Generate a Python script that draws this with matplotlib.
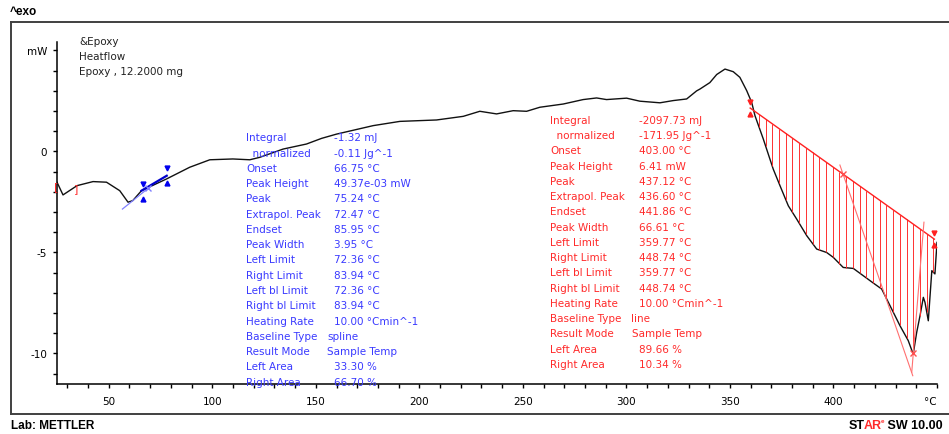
import matplotlib
matplotlib.use("Agg")
import matplotlib.pyplot as plt
from matplotlib.lines import Line2D
import numpy as np

# DSC heat flow curve (temperature in C, heat flow in mW)
temp = [25.0, 27.9, 34.7, 42.4, 48.9, 55.3, 59.3, 61.6, 65.8, 77.9, 89.1, 98.8,
        109.9, 118.1, 122.9, 134.2, 145.5, 152.8, 160.0, 177.7, 190.6, 208.3,
        221.2, 229.2, 237.3, 245.3, 251.8, 258.2, 269.5, 279.1, 285.6, 290.4,
        300.1, 306.5, 316.2, 322.6, 329.1, 333.9, 335.5, 340.3, 343.6, 347.6,
        351.6, 354.8, 358.1, 360.5, 362.1, 366.1, 370.9, 374.2, 378.2, 382.2,
        387.1, 391.9, 396.7, 399.9, 404.7, 409.6, 414.4, 419.2, 423.3, 427.3,
        432.1, 436.1, 438.5, 440.2, 441.8, 443.4, 444.2, 445.8, 447.5, 449.0, 450.0]
heatflow = [-1.52, -2.15, -1.69, -1.49, -1.52, -1.94, -2.51, -2.43, -1.94, -1.36,
            -0.78, -0.41, -0.37, -0.41, -0.29, 0.12, 0.37, 0.65, 0.86, 1.28, 1.49,
            1.56, 1.74, 1.99, 1.86, 2.02, 1.99, 2.19, 2.35, 2.57, 2.65, 2.57, 2.64,
            2.49, 2.41, 2.52, 2.60, 3.00, 3.09, 3.41, 3.81, 4.08, 3.95, 3.67, 3.01,
            2.43, 1.77, 0.62, -0.87, -1.70, -2.69, -3.34, -4.17, -4.83, -5.00, -5.24,
            -5.74, -5.79, -6.15, -6.51, -6.81, -7.63, -8.62, -9.36, -10.03, -8.95,
            -8.13, -7.22, -7.47, -8.38, -5.90, -6.06, -4.50]

# first (small) peak evaluation - blue
blue_tangent_t = [56.6, 70.6]
blue_tangent_y = [-2.85, -1.69]
blue_base_t = [65.8, 78.0]
blue_base_y = [-1.94, -1.20]
blue_marks_t = [66.3, 77.9]
blue_marks_y = [-1.98, -1.19]

# second (big) peak evaluation - red
red_limits = [359.77, 448.74]
red_base_y = [2.15, -4.34]
red_onset_t = [403.1, 438.3]
red_onset_y = [-0.67, -11.1]
red_end_t = [443.7, 437.8]
red_end_y = [-3.5, -10.93]
red_cross_t = [404.4, 438.5]
red_cross_y = [-1.11, -10.0]

blue_labels = ["Integral", "  normalized", "Onset", "Peak Height", "Peak",
               "Extrapol. Peak", "Endset", "Peak Width", "Left Limit", "Right Limit",
               "Left bl Limit", "Right bl Limit", "Heating Rate", "Baseline Type",
               "Result Mode", "Left Area", "Right Area"]
blue_values = ["-1.32 mJ", "-0.11 Jg^-1", "66.75 °C", "49.37e-03 mW", "75.24 °C",
               "72.47 °C", "85.95 °C", "3.95 °C", "72.36 °C", "83.94 °C", "72.36 °C",
               "83.94 °C", "10.00 °Cmin^-1", "spline", "Sample Temp", "33.30 %", "66.70 %"]
red_values = ["-2097.73 mJ", "-171.95 Jg^-1", "403.00 °C", "6.41 mW", "437.12 °C",
              "436.60 °C", "441.86 °C", "66.61 °C", "359.77 °C", "448.74 °C",
              "359.77 °C", "448.74 °C", "10.00 °Cmin^-1", "line", "Sample Temp",
              "89.66 %", "10.34 %"]

W, H = 949, 435
BLUE = "#3a3aff"
RED = "#ff2a2a"

fig = plt.figure(figsize=(W / 100, H / 100), dpi=100)
plt.rcParams["font.family"] = "DejaVu Sans"

def fx(x):
    return x / W

def fy(y):
    return 1 - y / H

# axes placed in pixel terms
ax = fig.add_axes([fx(57), fy(385), (937 - 57) / W, (385 - 43) / H])
ax.set_xlim(25, 450)
ax.set_ylim(-11.51, 5.42)
for s in ["top", "right"]:
    ax.spines[s].set_visible(False)
for s in ["left", "bottom"]:
    ax.spines[s].set_linewidth(1.1)

ax.set_xticks(np.arange(50, 451, 50))
ax.set_xticklabels([str(v) for v in range(50, 401, 50)] + ["°C"])
ax.set_xticks(np.arange(30, 450, 10), minor=True)
ax.set_yticks([5, 0, -5, -10])
ax.set_yticklabels(["mW", "0", "-5", "-10"])
ax.set_yticks(np.arange(-11, 5, 1), minor=True)
ax.tick_params(which="both", direction="out", labelsize=7.5, width=1.0)
ax.tick_params(axis="x", which="both", length=3.2, pad=5.5)
ax.tick_params(axis="y", which="both", length=3.0, pad=4)
ax.get_xticklabels()[-1].set_ha("right")

# main curve
ax.plot(temp, heatflow, color="#111111", lw=1.0)

# blue evaluation
ax.plot(blue_tangent_t, blue_tangent_y, color="#8080ff", lw=0.9)
ax.plot(blue_base_t, blue_base_y, color="#0000cc", lw=1.6)
for t, y in zip(blue_marks_t, blue_marks_y):
    ax.plot([t], [y + 0.35], marker="v", color="#0000ee", ms=3.5, ls="none")
    ax.plot([t], [y - 0.35], marker="^", color="#0000ee", ms=3.5, ls="none")
ax.plot([69.0], [-1.82], marker="x", color="#8080ff", ms=4, ls="none")

# red evaluation: hatched area between line baseline and curve
slope = (red_base_y[1] - red_base_y[0]) / (red_limits[1] - red_limits[0])
hx = np.arange(red_limits[0] + 1.0, red_limits[1], 3.24)
htop = red_base_y[0] + slope * (hx - red_limits[0])
hbot = np.interp(hx, temp, heatflow)
keep = hbot < htop
ax.vlines(hx[keep], hbot[keep], htop[keep], color="#ff3030", lw=0.7)
ax.plot(red_limits, red_base_y, color="#ff2020", lw=1.0)
ax.plot(red_onset_t, red_onset_y, color="#ff7070", lw=0.8, clip_on=False)
ax.plot(red_end_t, red_end_y, color="#ff7070", lw=0.8)
ax.plot(red_cross_t, red_cross_y, marker="x", color="#ff5050", ms=4, ls="none")
for t, y in zip(red_limits, red_base_y):
    ax.plot([t], [y + 0.3], marker="v", color="#ff2020", ms=3.5, ls="none")
    ax.plot([t], [y - 0.3], marker="^", color="#ff2020", ms=3.5, ls="none")

ax.text(24.4, -1.69, "[", color=RED, fontsize=8, ha="center", va="center", clip_on=False)
ax.text(34.4, -1.81, "]", color=RED, fontsize=8, ha="center", va="center")

# result texts
row = 15.27
for i, (lab, val) in enumerate(zip(blue_labels, blue_values)):
    y = 138.3 + i * row
    fig.text(fx(246), fy(y), lab, color=BLUE, fontsize=7.5, va="center")
    vx = 327 if lab in ("Baseline Type", "Result Mode") else 334
    fig.text(fx(vx), fy(y), val, color=BLUE, fontsize=7.5, va="center")
for i, (lab, val) in enumerate(zip(blue_labels, red_values)):
    y = 120.7 + i * row
    fig.text(fx(550), fy(y), lab, color=RED, fontsize=7.5, va="center")
    vx = 631.5 if lab in ("Baseline Type", "Result Mode") else 639
    fig.text(fx(vx), fy(y), val, color=RED, fontsize=7.5, va="center")

# sample header
for i, s in enumerate(["&Epoxy", "Heatflow", "Epoxy , 12.2000 mg"]):
    fig.text(fx(79), fy(41.7 + i * 15), s, color="#222222", fontsize=7.5, va="center")

# outer frame
for xs, ys in [([11, W], [22.7, 22.7]), ([11, 11], [22.7, 415]), ([11, W], [415, 415])]:
    fig.add_artist(Line2D([fx(v) for v in xs], [fy(v) for v in ys],
                          color="#404040", lw=1.4))

fig.text(fx(10), fy(12), "^exo", fontsize=8.5, fontweight="bold",
         family="Liberation Sans", va="center")
fig.text(fx(11), fy(426), "Lab: METTLER", fontsize=8.5, fontweight="bold",
         family="Liberation Sans", va="center")

# STARe SW 10.00 logo, pieces laid out left to right
fig.canvas.draw()
r = fig.canvas.get_renderer()
x = 849
for s, c, fs, dy in [("ST", "black", 9, 0), ("AR", RED, 9, 0),
                     ("e", RED, 4.5, -4), (" SW 10.00", "black", 9, 0)]:
    t = fig.text(fx(x), fy(426 + dy), s, color=c, fontsize=fs, fontweight="bold",
                 family="Liberation Sans", va="center")
    x += t.get_window_extent(r).width - 1

fig.savefig("out.png", dpi=100)
